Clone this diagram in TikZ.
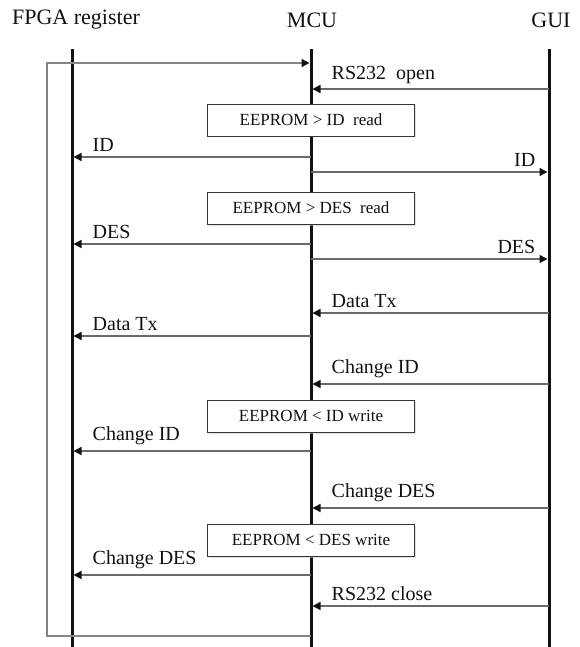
\documentclass[tikz,border=0pt]{standalone}
\usepackage{fontspec}
\setmainfont{Liberation Serif}
\usetikzlibrary{arrows.meta, positioning, shadows}
\definecolor{negroLinea}{HTML}{111111}
\definecolor{grisMensaje}{HTML}{6A6A6A}
\definecolor{grisLazo}{HTML}{858585}
\colorlet{colTexto}{negroLinea}
\tikzset{
  cabecera/.style={font=\fontsize{22}{24}\selectfont, text=colTexto, inner sep=0pt},
  vidaLinea/.style={line width=3pt, negroLinea},
  mensaje/.style={-{Triangle[length=8pt,width=8pt,color=negroLinea]}, line width=1.4pt,
    grisMensaje, shorten >=1.5pt},
  lazo/.style={mensaje, grisLazo},
  etiquetaBase/.style={font=\fontsize{20}{22}\selectfont, text=colTexto, inner sep=0pt, yshift=5pt},
  etiqueta/.style={etiquetaBase, anchor=south west, xshift=20pt},
  etiquetaDer/.style={etiquetaBase, anchor=south east, xshift=-13pt},
  cajaEeprom/.style={draw=negroLinea!85, line width=0.8pt, fill=white,
    minimum width=207pt, minimum height=32pt, inner sep=0pt,
    font=\fontsize{17}{19}\selectfont, text=colTexto,
    drop shadow={shadow xshift=1.5pt, shadow yshift=-1.5pt, fill=gray!45}},
}
\begin{document}
\begin{tikzpicture}[x=1pt, y=-1pt]
    \useasboundingbox (0,0) rectangle (580,647);
    % lifelines
    \coordinate (fpga) at (72,49);
    \coordinate (mcu) at (311,49);
    \coordinate (gui) at (549,49);
    \node[cabecera] (tFpga) at (76,20) {FPGA register};
    \node[cabecera] (tMcu) at (312,20) {MCU};
    \node[cabecera] (tGui) at (551,20) {GUI};
    \coordinate (fondo) at (0,647);
    \draw[vidaLinea] (fpga) -- (fpga |- fondo);
    \draw[vidaLinea] (mcu) -- (mcu |- fondo);
    \draw[vidaLinea] (gui) -- (gui |- fondo);

    % loop back to the start
    \coordinate (lazoA) at (47,63);
    \coordinate (lazoB) at (47,636);
    \draw[lazo] (mcu |- lazoB) -- (lazoB) -- (lazoA) -- (mcu |- lazoA);

    % rows
    \coordinate (rOpen) at (0,89);
    \coordinate (rId1) at (0,157);
    \coordinate (rId2) at (0,172);
    \coordinate (rDes1) at (0,244);
    \coordinate (rDes2) at (0,259);
    \coordinate (rTx1) at (0,313);
    \coordinate (rTx2) at (0,336);
    \coordinate (rCid1) at (0,384);
    \coordinate (rCid2) at (0,451);
    \coordinate (rCdes1) at (0,508);
    \coordinate (rCdes2) at (0,575);
    \coordinate (rClose) at (0,606);

    \draw[mensaje] (gui |- rOpen) -- (mcu |- rOpen) node[etiqueta, at end] {RS232~~open};
    \node[cajaEeprom] (leeId) at (311,120) {EEPROM > ID~~read};
    \draw[mensaje] (mcu |- rId1) -- (fpga |- rId1) node[etiqueta, at end] {ID};
    \draw[mensaje] (mcu |- rId2) -- (gui |- rId2) node[etiquetaDer, at end] {ID};
    \node[cajaEeprom] (leeDes) at (311,208) {EEPROM > DES~~read};
    \draw[mensaje] (mcu |- rDes1) -- (fpga |- rDes1) node[etiqueta, at end] {DES};
    \draw[mensaje] (mcu |- rDes2) -- (gui |- rDes2) node[etiquetaDer, at end] {DES};
    \draw[mensaje] (gui |- rTx1) -- (mcu |- rTx1) node[etiqueta, at end] {Data Tx};
    \draw[mensaje] (mcu |- rTx2) -- (fpga |- rTx2) node[etiqueta, at end] {Data Tx};
    \draw[mensaje] (gui |- rCid1) -- (mcu |- rCid1) node[etiqueta, at end] {Change ID};
    \node[cajaEeprom] (escId) at (311,416) {EEPROM < ID write};
    \draw[mensaje] (mcu |- rCid2) -- (fpga |- rCid2) node[etiqueta, at end] {Change ID};
    \draw[mensaje] (gui |- rCdes1) -- (mcu |- rCdes1) node[etiqueta, at end] {Change DES};
    \node[cajaEeprom] (escDes) at (311,540) {EEPROM < DES write};
    \draw[mensaje] (mcu |- rCdes2) -- (fpga |- rCdes2) node[etiqueta, at end] {Change DES};
    \draw[mensaje] (gui |- rClose) -- (mcu |- rClose) node[etiqueta, at end] {RS232 close};
\end{tikzpicture}
\end{document}
